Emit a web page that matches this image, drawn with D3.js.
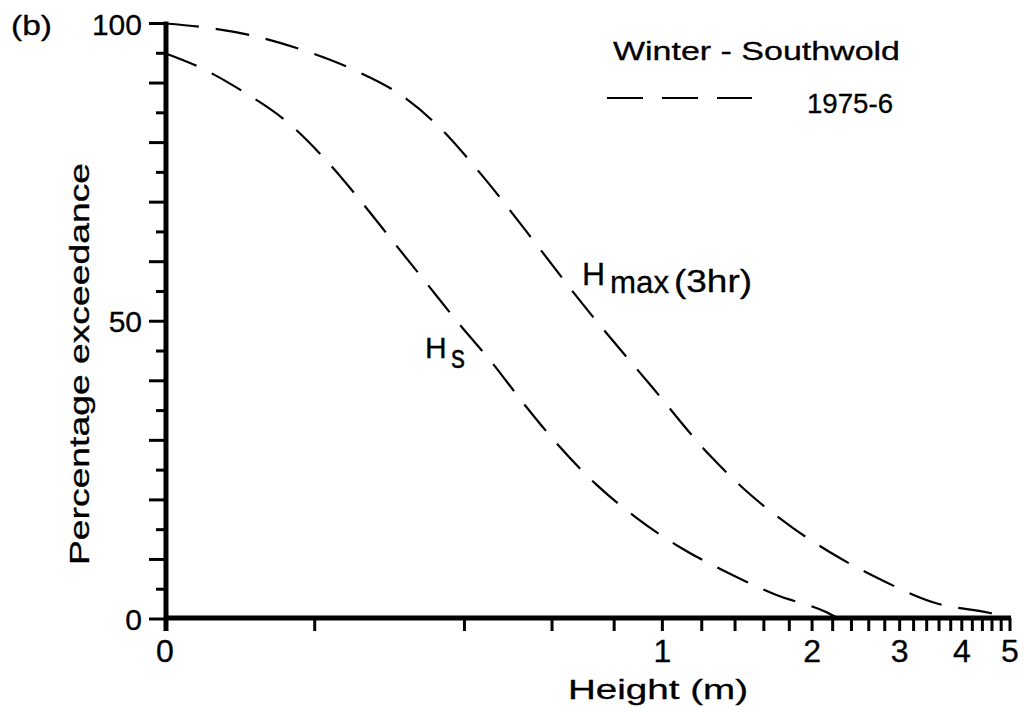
<!DOCTYPE html>
<html>
<head>
<meta charset="utf-8">
<script src="https://cdn.jsdelivr.net/npm/d3@7"></script>
<style>
  html, body { margin: 0; padding: 0; background: #fff; }
  svg { display: block; }
  text { font-family: "Liberation Sans", Arial, sans-serif; fill: #000; stroke: #000; stroke-width: 0.3px; }
</style>
</head>
<body>
<svg id="chart" width="1024" height="712"></svg>
<script>
// Wave height (m) and percentage of time exceeded, winter 1975-6, Southwold
const hsHeight = [0.1, 0.117, 0.144, 0.177, 0.212, 0.248, 0.288, 0.334, 0.389, 0.456, 0.526, 0.616, 0.736, 0.887, 1.087, 1.351, 1.686, 2.144, 2.25];
const hsExceed = [95.0, 92.7, 88.5, 83.3, 76.8, 70.1, 63.3, 56.6, 49.7, 42.9, 36.2, 29.3, 22.6, 17.0, 12.0, 7.8, 4.1, 1.1, 0.2];

const hmaxHeight = [0.1, 0.119, 0.151, 0.190, 0.240, 0.298, 0.361, 0.425, 0.569, 0.663, 0.959, 1.248, 1.502, 1.823, 2.225, 2.766, 3.50, 4.56, 4.95];
const hmaxExceed = [100, 99.4, 97.9, 95.5, 92.2, 88.0, 82.1, 75.4, 62.0, 54.8, 38.7, 27.4, 20.9, 15.4, 10.7, 6.5, 2.8, 1.0, 0.3];

// Axis ticks and labels
const xLabelValues = [0.1, 1, 2, 3, 4, 5];
const xLabelText = ["0", "1", "2", "3", "4", "5"];
const xMinorTicks = d3.range(2, 51, 2).map(i => i / 10);
const yLabelValues = [0, 50, 100];
const yTicks = d3.range(0, 101, 5);

const svg = d3.select("#chart");

const x = d3.scaleLog().domain([0.1, 5]).range([165, 1010]);
const y = d3.scaleLinear().domain([0, 100]).range([619, 23.5]);

// Exceedance curves
const line = d3.line()
  .x(d => x(d[0]))
  .y(d => y(d[1]))
  .curve(d3.curveMonotoneX);

const series = [
  { name: "hs", pts: d3.zip(hsHeight, hsExceed) },
  { name: "hmax", pts: d3.zip(hmaxHeight, hmaxExceed) }
];

svg.append("g").selectAll("path")
  .data(series)
  .join("path")
  .attr("d", d => line(d.pts))
  .attr("fill", "none")
  .attr("stroke", "#000")
  .attr("stroke-width", 2.2)
  .attr("stroke-dasharray", "34,17");

// Y axis
const yAxis = svg.append("g");
yAxis.append("line")
  .attr("x1", 166).attr("x2", 166)
  .attr("y1", y(100) - 2).attr("y2", 631)
  .attr("stroke", "#000").attr("stroke-width", 5);
yAxis.selectAll("line.tick")
  .data(yTicks)
  .join("line")
  .attr("class", "tick")
  .attr("x1", d => d % 10 === 0 ? 149 : 156)
  .attr("x2", 166)
  .attr("y1", d => y(d)).attr("y2", d => y(d))
  .attr("stroke", "#000").attr("stroke-width", 3);
yAxis.selectAll("text")
  .data(yLabelValues)
  .join("text")
  .attr("x", 142)
  .attr("y", d => y(d) + 11)
  .attr("text-anchor", "end")
  .attr("font-size", 30)
  .text(d => d);

// X axis (log scale, left end labelled 0)
const xAxis = svg.append("g");
xAxis.append("line")
  .attr("x1", 164).attr("x2", x(5) + 1)
  .attr("y1", 618).attr("y2", 618)
  .attr("stroke", "#000").attr("stroke-width", 5);
xAxis.selectAll("line.tick")
  .data(xMinorTicks)
  .join("line")
  .attr("class", "tick")
  .attr("x1", d => x(d)).attr("x2", d => x(d))
  .attr("y1", 618).attr("y2", 631)
  .attr("stroke", "#000").attr("stroke-width", 3);
xAxis.selectAll("text")
  .data(xLabelValues)
  .join("text")
  .attr("x", d => x(d))
  .attr("y", 662)
  .attr("text-anchor", "middle")
  .attr("font-size", 32)
  .text((d, i) => xLabelText[i]);

// Axis titles
svg.append("text")
  .attr("x", 568).attr("y", 699)
  .attr("font-size", 27)
  .attr("textLength", 180).attr("lengthAdjust", "spacingAndGlyphs")
  .text("Height (m)");

svg.append("text")
  .attr("transform", "translate(89,565) rotate(-90)")
  .attr("font-size", 28)
  .attr("textLength", 402).attr("lengthAdjust", "spacingAndGlyphs")
  .text("Percentage exceedance");

// Panel letter
svg.append("text")
  .attr("x", 11).attr("y", 35)
  .attr("font-size", 28)
  .attr("textLength", 41).attr("lengthAdjust", "spacingAndGlyphs")
  .text("(b)");

// Legend
svg.append("text")
  .attr("x", 613).attr("y", 60)
  .attr("font-size", 26)
  .attr("textLength", 287).attr("lengthAdjust", "spacingAndGlyphs")
  .text("Winter - Southwold");
svg.append("line")
  .attr("x1", 607).attr("x2", 752)
  .attr("y1", 98).attr("y2", 98)
  .attr("stroke", "#000").attr("stroke-width", 2.2)
  .attr("stroke-dasharray", "36,19");
svg.append("text")
  .attr("x", 807).attr("y", 113)
  .attr("font-size", 27)
  .attr("textLength", 86).attr("lengthAdjust", "spacingAndGlyphs")
  .text("1975-6");

// Curve labels
svg.append("text").attr("x", 582).attr("y", 285).attr("font-size", 32).text("H");
svg.append("text").attr("x", 610).attr("y", 293).attr("font-size", 32)
  .attr("textLength", 59).attr("lengthAdjust", "spacingAndGlyphs").text("max");
svg.append("text").attr("x", 674).attr("y", 292).attr("font-size", 31)
  .attr("textLength", 78).attr("lengthAdjust", "spacingAndGlyphs").text("(3hr)");

svg.append("text").attr("x", 425).attr("y", 358).attr("font-size", 30).text("H");
svg.append("text").attr("x", 451).attr("y", 368).attr("font-size", 34)
  .attr("textLength", 14).attr("lengthAdjust", "spacingAndGlyphs").text("s");
</script>
</body>
</html>
